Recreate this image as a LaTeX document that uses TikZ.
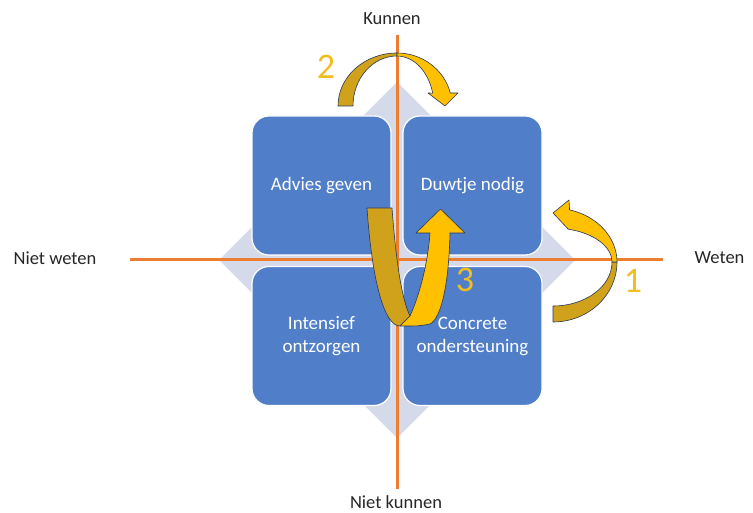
\documentclass[tikz,border=0pt]{standalone}
\usepackage{fontspec}
\setmainfont{Carlito}
\definecolor{boxblue}{RGB}{80,126,200}
\definecolor{diam}{RGB}{213,218,235}
\definecolor{axis}{RGB}{237,125,49}
\definecolor{yel}{RGB}{255,192,0}
\definecolor{gold}{RGB}{208,162,28}
\definecolor{numc}{RGB}{240,190,32}
\definecolor{edge}{RGB}{40,55,90}
\tikzset{
  quad/.style={rectangle, rounded corners=17pt, minimum width=139pt, minimum height=139pt,
    fill=boxblue, draw=white, line width=1.2pt, text=white, align=center,
    font=\fontsize{19}{23}\selectfont},
  axlabel/.style={text=black!85, font=\fontsize{18.5}{22}\selectfont, inner sep=0pt},
  numlabel/.style={text=numc, font=\fontsize{36}{40}\selectfont, inner sep=0pt},
  axisline/.style={draw=axis, line width=3pt},
  front/.style={fill=yel, draw=edge, line width=0.6pt, line join=round},
  back/.style={fill=gold, draw=edge, line width=0.6pt, line join=round}
}
\begin{document}
\begin{tikzpicture}[x=1pt,y=-1pt]
\useasboundingbox (0,0) rectangle (753,513);
% diamond background
\fill[diam] (397,82) -- (575,260) -- (397,438) -- (219,260) -- cycle;
% boxes
\node[quad] (tl) at (321.5,185.5) {Advies geven};
\node[quad] (tr) at (472.5,185.5) {Duwtje nodig};
\node[quad] (bl) at (321.5,336) {Intensief\\ontzorgen};
\node[quad] (br) at (472.5,336) {Concrete\\ondersteuning};
% axes
\coordinate (top) at (397,35);
\coordinate (bot) at (397,489);
\coordinate (left) at (130,260);
\coordinate (right) at (663,260);
\draw[axisline] (top) -- (bot);
\draw[axisline] (left) -- (right);
% axis labels
\node[axlabel] (kun) at (392,19) {Kunnen};
\node[axlabel] (nkun) at (396,502) {Niet kunnen};
\node[axlabel] (nwet) at (55,258) {Niet weten};
\node[axlabel] (wet) at (719.5,258) {Weten};
% arrow 2 (top)
\path[back] (338,106) arc[start angle=180,end angle=270,x radius=59,y radius=53]
  -- (397,56) arc[start angle=270,end angle=180,x radius=44,y radius=50] -- cycle;
\path[front] (397,53) arc[start angle=270,end angle=345.8,x radius=55,y radius=53]
  -- (458,93) -- (445,106) -- (428,93) -- (432.7,93.1)
  arc[start angle=345,end angle=270,x radius=37,y radius=50] -- cycle;
% arrow 1 (right)
\path[back] (617,262) arc[start angle=0,end angle=90,x radius=64,y radius=60]
  -- (553,306) arc[start angle=90,end angle=0,x radius=59,y radius=44] -- cycle;
\path[front] (617,262) arc[start angle=0,end angle=-75,x radius=64,y radius=54]
  -- (569,200) -- (553,213) -- (568.3,229.2)
  arc[start angle=-75,end angle=0,x radius=59,y radius=34] -- cycle;
% arrow 3 (middle)
\path[back] (367,208) -- (392,208) .. controls (396,262) and (402,300) .. (410,316)
  -- (400,326) .. controls (384,326) and (372,280) .. (367,208) -- cycle;
\path[front] (400,326) -- (410,316) .. controls (420,294) and (428,262) .. (430,233)
  -- (416,233) -- (440.5,209) -- (465,233) -- (450,233)
  .. controls (449,280) and (442,318) .. (430,324) .. controls (420,326) .. (400,326) -- cycle;
% numbers
\node[numlabel] (n2) at (326,67) {2};
\node[numlabel] (n1) at (633,281) {1};
\node[numlabel] (n3) at (465,280) {3};
\end{tikzpicture}
\end{document}
